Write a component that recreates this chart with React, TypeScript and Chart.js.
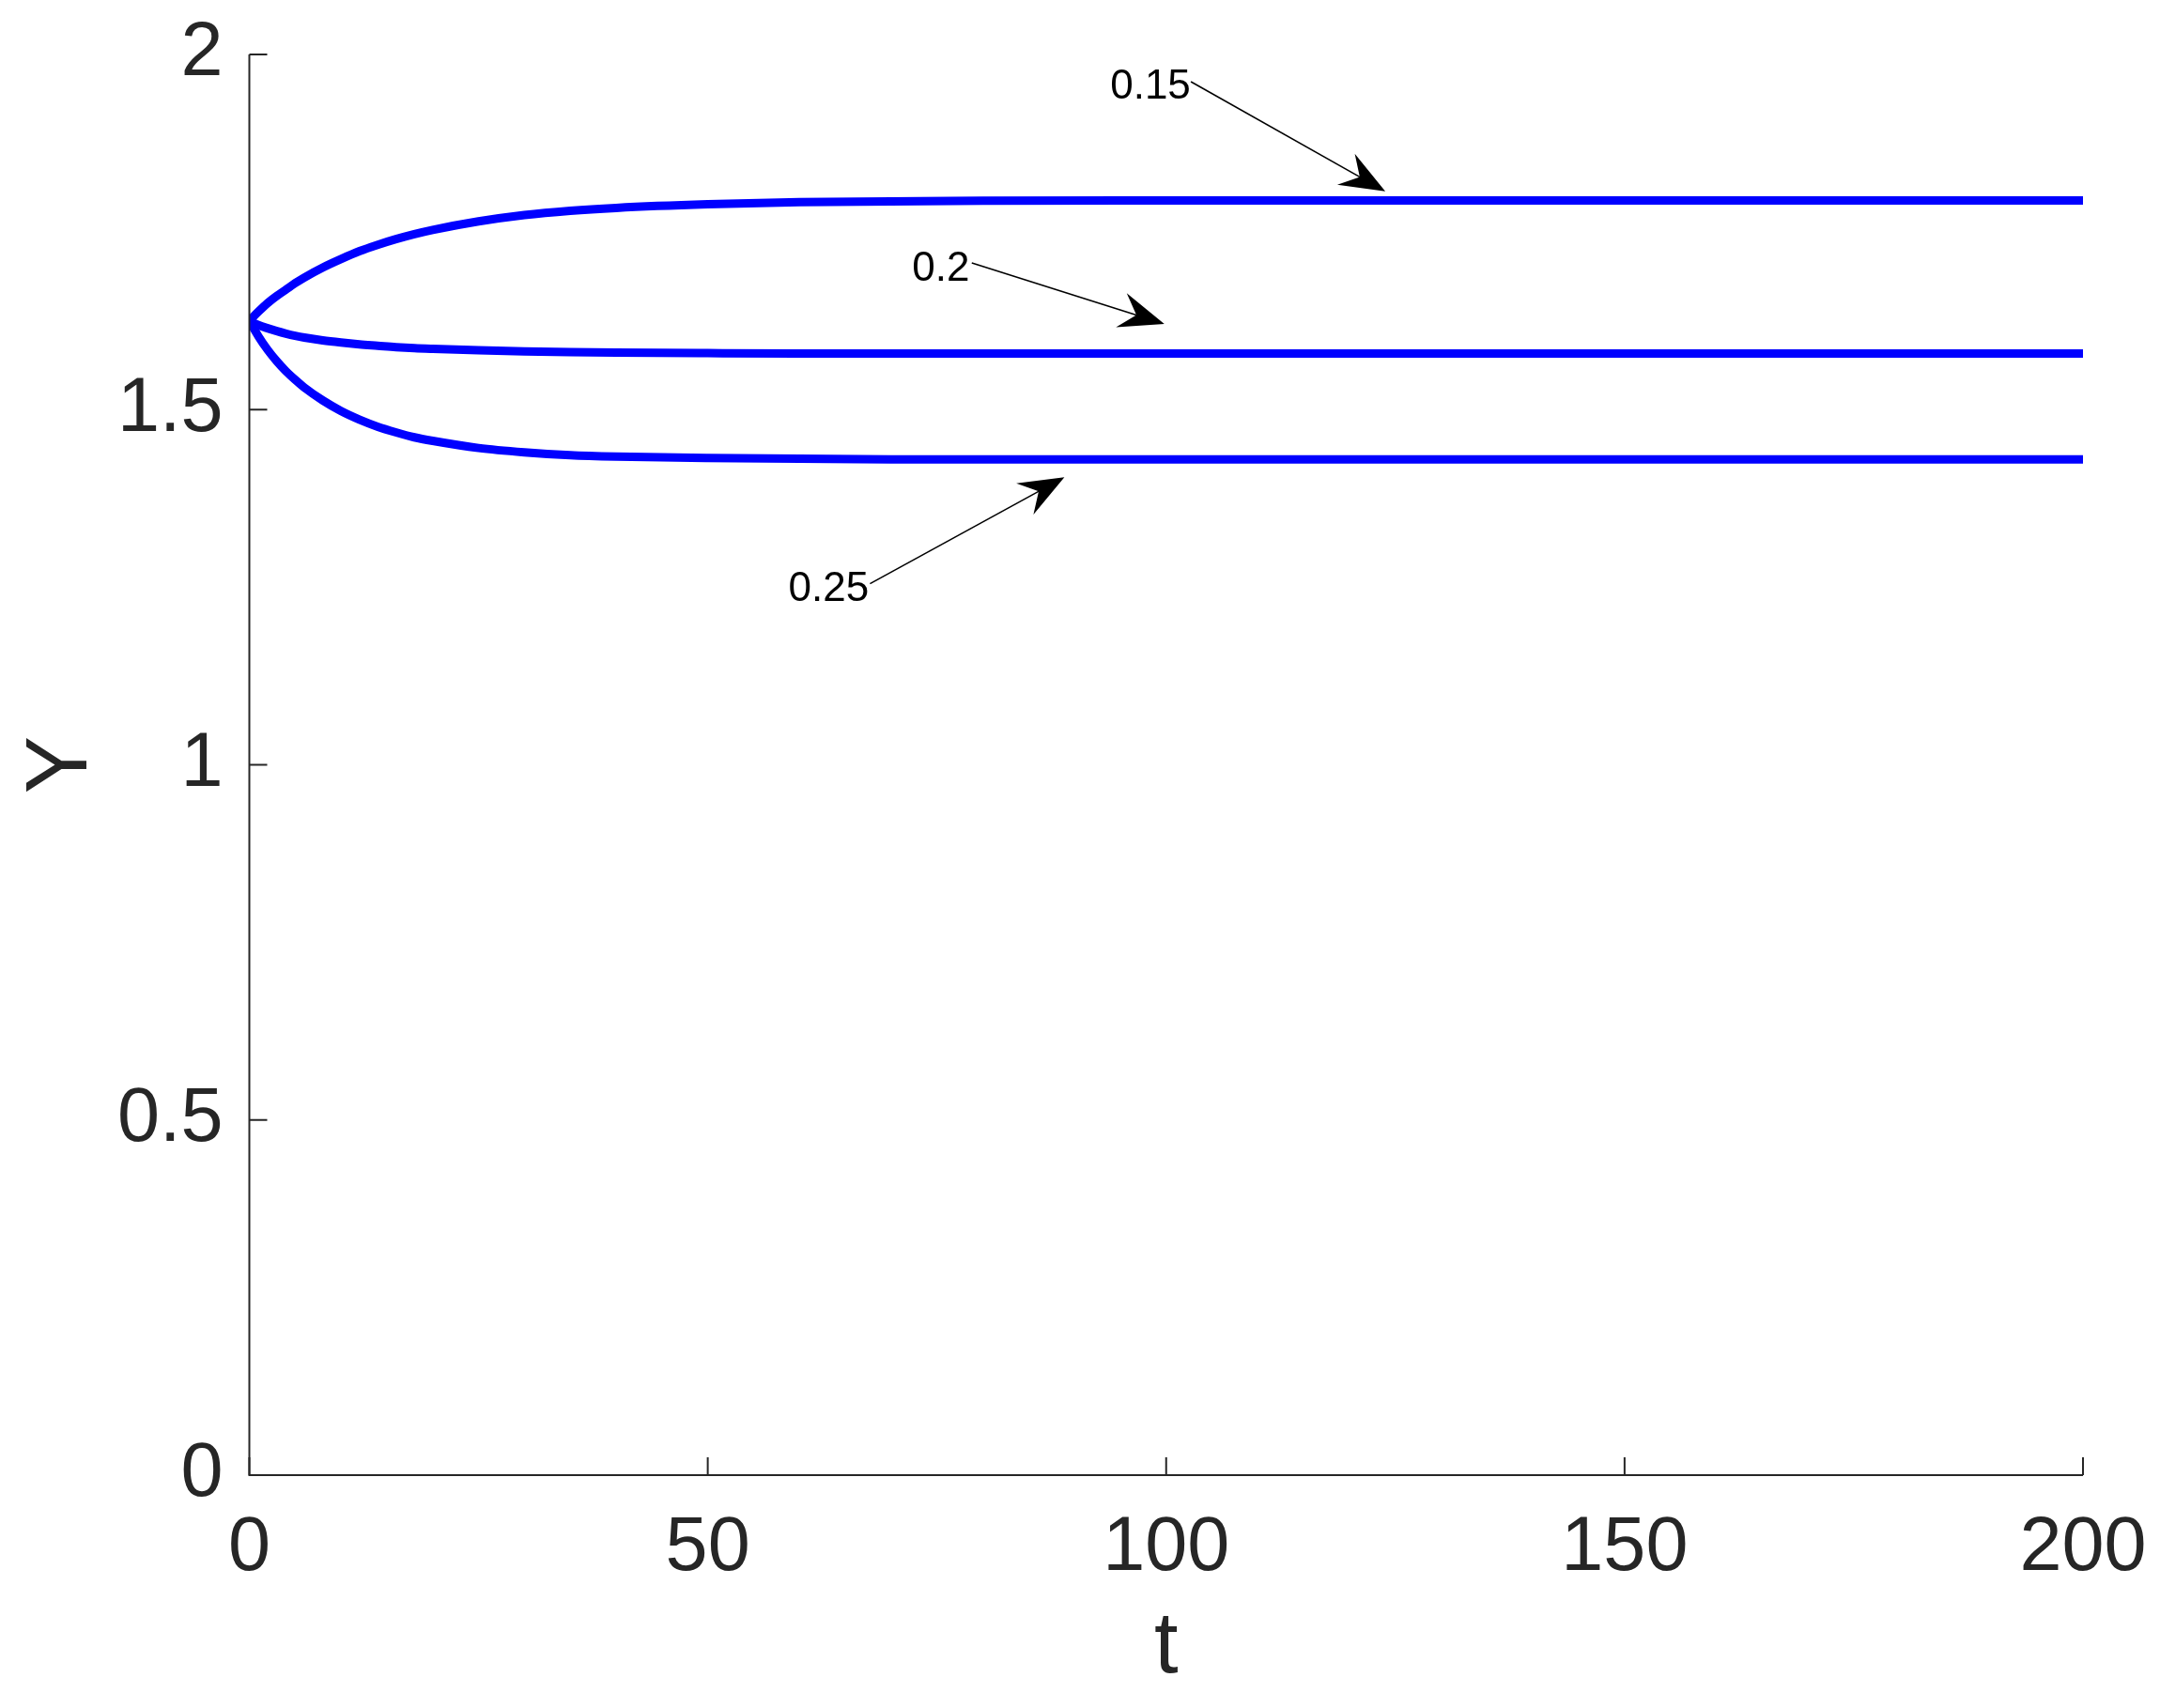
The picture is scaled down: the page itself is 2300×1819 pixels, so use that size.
import { useEffect, useRef } from "react";
import { Chart, registerables } from "chart.js";

Chart.register(...registerables);

// time axis samples
const tValues = [
  0, 1, 2, 3, 4, 5, 6, 8, 10, 12, 14, 16, 18, 20, 25, 30, 35, 40, 50, 60, 70,
  80, 100, 120, 140, 160, 180, 200,
];

// Y(t) for the three parameter values
const y015 = [
  1.625, 1.638, 1.65, 1.66, 1.669, 1.678, 1.686, 1.7, 1.712, 1.723, 1.732,
  1.74, 1.747, 1.753, 1.765, 1.774, 1.78, 1.784, 1.789, 1.792, 1.793, 1.794,
  1.7945, 1.7945, 1.7945, 1.7945, 1.7945, 1.7945,
];
const y02 = [
  1.625, 1.619, 1.6145, 1.6105, 1.607, 1.604, 1.6015, 1.5975, 1.5945, 1.592,
  1.59, 1.588, 1.5865, 1.5855, 1.5835, 1.582, 1.581, 1.5803, 1.5795, 1.579,
  1.579, 1.579, 1.579, 1.579, 1.579, 1.579, 1.579, 1.579,
];
const y025 = [
  1.625, 1.603, 1.584, 1.568, 1.554, 1.542, 1.531, 1.513, 1.498, 1.486, 1.476,
  1.468, 1.461, 1.456, 1.446, 1.44, 1.436, 1.434, 1.432, 1.431, 1.43, 1.43,
  1.43, 1.43, 1.43, 1.43, 1.43, 1.43,
];

const xTickValues = [0, 50, 100, 150, 200];
const xTickLabels = ["0", "50", "100", "150", "200"];
const yTickValues = [0, 0.5, 1, 1.5, 2];
const yTickLabels = ["0", "0.5", "1", "1.5", "2"];

// text arrows (data units)
const noteTexts = ["0.15", "0.2", "0.25"];
const noteX = [93.9, 72.3, 58.8];
const noteY = [1.938, 1.6814, 1.2307];
const arrowFromX = [102.7, 78.8, 67.7];
const arrowFromY = [1.9617, 1.7066, 1.2549];
const arrowToX = [123.9, 99.8, 88.9];
const arrowToY = [1.8073, 1.6207, 1.4048];

const FONT = "'Liberation Sans', Arial, Helvetica, sans-serif";
const INK = "#262626";

const toPoints = (ys: number[]) => tValues.map((t, i) => ({ x: t, y: ys[i] }));

const noScalePadding = (scale: any) => {
  scale.paddingTop = 0;
  scale.paddingBottom = 0;
  scale.paddingLeft = 0;
  scale.paddingRight = 0;
};

const overlayPlugin = {
  id: "overlay",
  afterDatasetsDraw(chart: any) {
    const { ctx, chartArea } = chart;
    const xs = chart.scales.x;
    const ys = chart.scales.y;
    ctx.save();

    // axes lines, ticks pointing inwards
    ctx.strokeStyle = INK;
    ctx.lineWidth = 2;
    ctx.beginPath();
    ctx.moveTo(chartArea.left, chartArea.top);
    ctx.lineTo(chartArea.left, chartArea.bottom);
    ctx.lineTo(chartArea.right, chartArea.bottom);
    ctx.stroke();
    ctx.beginPath();
    yTickValues.forEach((v) => {
      const py = ys.getPixelForValue(v);
      ctx.moveTo(chartArea.left, py);
      ctx.lineTo(chartArea.left + 19, py);
    });
    xTickValues.forEach((v) => {
      const px = xs.getPixelForValue(v);
      ctx.moveTo(px, chartArea.bottom);
      ctx.lineTo(px, chartArea.bottom - 19);
    });
    ctx.stroke();

    // annotations
    ctx.fillStyle = "#000";
    ctx.strokeStyle = "#000";
    ctx.font = `44px ${FONT}`;
    ctx.textAlign = "left";
    ctx.textBaseline = "alphabetic";
    noteTexts.forEach((txt, i) => {
      ctx.fillText(txt, xs.getPixelForValue(noteX[i]), ys.getPixelForValue(noteY[i]));
      const x0 = xs.getPixelForValue(arrowFromX[i]);
      const y0 = ys.getPixelForValue(arrowFromY[i]);
      const x1 = xs.getPixelForValue(arrowToX[i]);
      const y1 = ys.getPixelForValue(arrowToY[i]);
      const len = Math.hypot(x1 - x0, y1 - y0);
      const ux = (x1 - x0) / len;
      const uy = (y1 - y0) / len;
      const nx = -uy;
      const ny = ux;
      const L = 48;
      const W = 19;
      ctx.lineWidth = 1.6;
      ctx.beginPath();
      ctx.moveTo(x0, y0);
      ctx.lineTo(x1 - ux * L * 0.6, y1 - uy * L * 0.6);
      ctx.stroke();
      ctx.beginPath();
      ctx.moveTo(x1, y1);
      ctx.lineTo(x1 - ux * L + nx * W, y1 - uy * L + ny * W);
      ctx.lineTo(x1 - ux * L * 0.65, y1 - uy * L * 0.65);
      ctx.lineTo(x1 - ux * L - nx * W, y1 - uy * L - ny * W);
      ctx.closePath();
      ctx.fill();
    });
    ctx.restore();
  },
};

export default function App() {
  const chartRef = useRef<HTMLCanvasElement>(null);
  const chartInstanceRef = useRef<Chart | null>(null);

  useEffect(() => {
    if (!chartRef.current) return;
    const ctx = chartRef.current.getContext("2d");
    if (!ctx) return;
    if (chartInstanceRef.current) chartInstanceRef.current.destroy();

    const line = (data: number[]) => ({
      data: toPoints(data),
      borderColor: "#0000FF",
      backgroundColor: "#0000FF",
      borderWidth: 9,
      pointRadius: 0,
      fill: false,
      cubicInterpolationMode: "monotone" as const,
    });

    chartInstanceRef.current = new Chart(ctx, {
      type: "line",
      data: {
        datasets: [
          { label: "0.15", ...line(y015) },
          { label: "0.2", ...line(y02) },
          { label: "0.25", ...line(y025) },
        ],
      },
      options: {
        animation: false,
        responsive: true,
        maintainAspectRatio: false,
        devicePixelRatio: 1,
        layout: { padding: { left: 0, top: 58, right: 82, bottom: 0 } },
        plugins: {
          legend: { display: false },
          tooltip: { enabled: false },
        },
        scales: {
          x: {
            type: "linear",
            min: 0,
            max: 200,
            afterBuildTicks: (scale: any) => {
              scale.ticks = xTickValues.map((v) => ({ value: v }));
            },
            afterFit: (scale: any) => {
              scale.height = 248;
              noScalePadding(scale);
            },
            grid: { display: false, drawTicks: false },
            border: { display: false },
            ticks: {
              color: INK,
              padding: 30,
              maxRotation: 0,
              autoSkip: false,
              font: { family: FONT, size: 81 },
              callback: (v: any) => xTickLabels[xTickValues.indexOf(Number(v))] ?? "",
            },
            title: {
              display: true,
              text: "t",
              color: INK,
              font: { family: FONT, size: 92 },
              padding: { top: 0, bottom: 8 },
            },
          },
          y: {
            type: "linear",
            min: 0,
            max: 2,
            afterBuildTicks: (scale: any) => {
              scale.ticks = yTickValues.map((v) => ({ value: v }));
            },
            afterFit: (scale: any) => {
              scale.width = 265.5;
              noScalePadding(scale);
            },
            grid: { display: false, drawTicks: false },
            border: { display: false },
            ticks: {
              color: INK,
              padding: 28,
              autoSkip: false,
              font: { family: FONT, size: 81 },
              callback: (v: any) => yTickLabels[yTickValues.indexOf(Number(v))] ?? "",
            },
            title: {
              display: true,
              text: "Y",
              color: INK,
              font: { family: FONT, size: 92 },
              padding: { top: 11, bottom: 0 },
            },
          },
        },
      },
      plugins: [overlayPlugin],
    });

    return () => {
      if (chartInstanceRef.current) {
        chartInstanceRef.current.destroy();
        chartInstanceRef.current = null;
      }
    };
  }, []);

  return (
    <div
      style={{
        position: "absolute",
        left: 0,
        top: 0,
        width: 2300,
        height: 1819,
        background: "#fff",
      }}
    >
      <canvas ref={chartRef} />
    </div>
  );
}
